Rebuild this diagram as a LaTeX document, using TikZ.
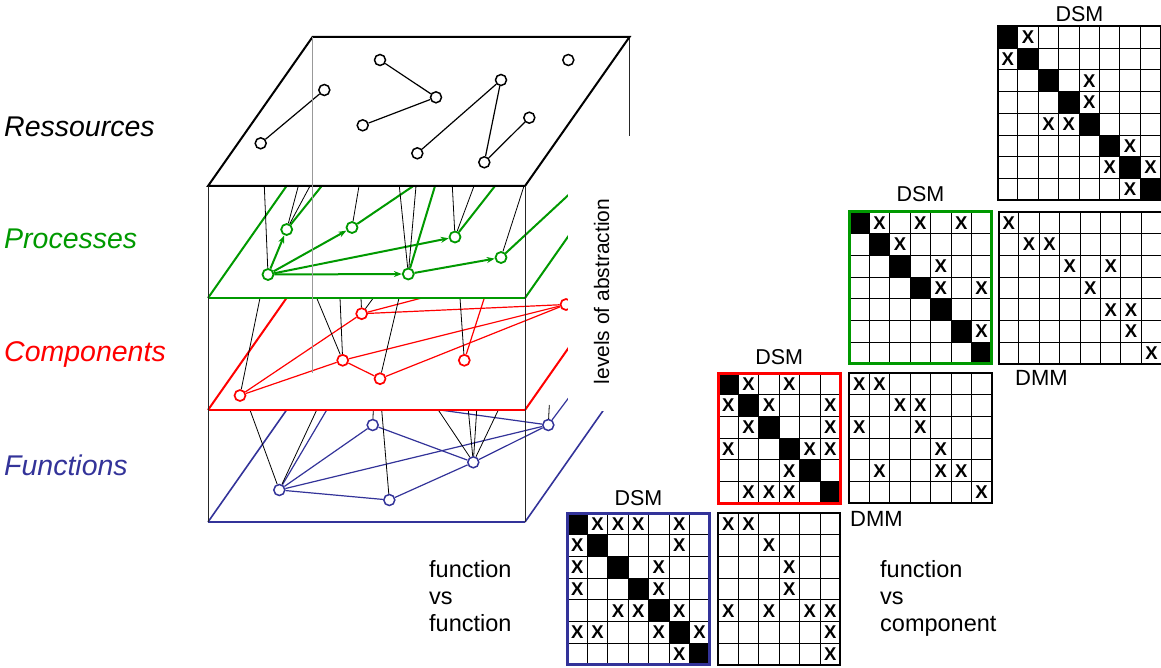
\documentclass[tikz,border=0pt]{standalone}
\usepackage{fontspec}
\setmainfont{Liberation Sans}
\usetikzlibrary{arrows.meta,calc}
\definecolor{pgreen}{RGB}{0,153,0}
\definecolor{fblue}{RGB}{51,51,153}
\def\cw{20.4}
\def\ch{21.7}
\newcommand{\drawmatrix}[6]{%
  \pgfmathtruncatemacro\mxcols{#3-1}%
  \pgfmathtruncatemacro\mxrows{#4-1}%
  \foreach \k in {1,...,\mxcols} \draw[gridline] ({#1+\k*\cw},#2) -- ++(0,{#4*\ch});
  \foreach \k in {1,...,\mxrows} \draw[gridline] (#1,{#2+\k*\ch}) -- ++({#3*\cw},0);
  \foreach \xr/\xc in {#6} \node[xmark] at ({#1+(\xc-0.5)*\cw},{#2+(\xr-0.5)*\ch}) {X};
  \draw[#5] (#1,#2) rectangle ++({#3*\cw},{#4*\ch});
}
\newcommand{\drawdiag}[3]{%
  \foreach \k in {1,...,#3} \fill[black] ({#1+(\k-1)*\cw},{#2+(\k-1)*\ch}) rectangle ++(\cw,\ch);
}
\begin{document}
\begin{tikzpicture}[x=1pt,y=-1pt,
 gridline/.style={black,line width=0.9pt},
 xmark/.style={font=\fontsize{18.5}{18.5}\selectfont\bfseries,inner sep=0pt},
 mborder/.style={black,line width=2pt},
 gborder/.style={pgreen,line width=3pt},
 rborder/.style={red,line width=3pt},
 bborder/.style={fblue,line width=3pt},
 lbl/.style={anchor=base west,inner sep=0pt,font=\fontsize{28.5}{30}\selectfont\itshape},
 mlabel/.style={anchor=base,inner sep=0pt,font=\fontsize{21.5}{24}\selectfont},
 mlabelw/.style={anchor=base west,inner sep=0pt,font=\fontsize{22}{24}\selectfont},
 txt/.style={anchor=base west,inner sep=0pt,font=\fontsize{23.5}{27}\selectfont},
 nbase/.style={circle,fill=white,minimum size=11pt,inner sep=0pt},
 rnode/.style={nbase,draw=black,line width=1.5pt},
 pnode/.style={nbase,draw=pgreen,line width=1.8pt},
 cnode/.style={nbase,draw=red,line width=1.7pt},
 fnode/.style={nbase,draw=fblue,line width=1.5pt},
 mlink/.style={black,line width=0.8pt},
 redge/.style={black,line width=1.2pt},
 pedge/.style={pgreen,line width=2pt},
 parrow/.style={pedge,-{Stealth[length=8pt,width=6pt]}},
 cedge/.style={red,line width=1.2pt},
 fedge/.style={fblue,line width=1.2pt},
 pfront/.style={line width=2.8pt},
 pside/.style={line width=2pt}]
\useasboundingbox (0,0) rectangle (1161,668);

% ================= functions layer
\draw[pside,fblue,line width=1.6pt] (208,522) -- (312.5,373);
\draw[pside,fblue,line width=1.6pt] (525,522) -- (629.5,373);
\draw[pfront,fblue] (208,522) -- (525,522);
\node[fnode] (B1) at (279.3,490) {};
\node[fnode] (B2) at (372.7,425) {};
\node[fnode] (B3) at (389.3,500) {};
\node[fnode] (B4) at (473.3,462.3) {};
\node[fnode] (B5) at (548.3,425) {};
\coordinate (fb1) at (326.7,410);
\coordinate (fb2) at (440,410);
\coordinate (fb3) at (582,380);
\draw[fedge] (B1) -- (B2);
\draw[fedge] (B1) -- (B3);
\draw[fedge] (B1) -- (B5);
\draw[fedge] (B2) -- (B4);
\draw[fedge] (B3) -- (B4);
\draw[fedge] (B4) -- (B5);
\draw[fedge] (B1) -- (fb1);
\draw[fedge] (B5) -- (fb2);
\draw[fedge] (B5) -- (fb3);
\coordinate (fk1) at (250,410);
\coordinate (fk2) at (316.7,410);
\coordinate (fk3) at (373.3,410);
\coordinate (fk4) at (381.7,410);
\coordinate (fk5) at (438.3,410);
\coordinate (fk6) at (468.3,410);
\coordinate (fk7) at (476.7,410);
\coordinate (fk8) at (498.3,410);
\coordinate (fk9) at (549.3,405);
\draw[mlink] (B1) -- (fk1);
\draw[mlink] (B1) -- (fk2);
\draw[mlink] (B2) -- (fk3);
\draw[mlink] (B3) -- (fk4);
\draw[mlink] (B4) -- (fk5);
\draw[mlink] (B4) -- (fk6);
\draw[mlink] (B4) -- (fk7);
\draw[mlink] (B4) -- (fk8);
\draw[mlink] (B5) -- (fk9);

% ================= components layer
\fill[white] (208,410) -- (525,410) -- (629.5,261) -- (312.5,261) -- cycle;
\draw[pside,red] (208,410) -- (312.5,261);
\draw[pside,red] (525,410) -- (629.5,261);
\draw[pfront,red] (208,410) -- (525,410);
\node[cnode] (C1) at (240,395.5) {};
\node[cnode] (C2) at (361.7,313.7) {};
\node[cnode] (C3) at (342.7,360.3) {};
\node[cnode] (C4) at (380,378.7) {};
\node[cnode] (C5) at (464.3,360.3) {};
\node[cnode] (C6) at (566,304.5) {};
\coordinate (cb1) at (421.7,298);
\coordinate (cb2) at (484.3,298);
\draw[cedge] (C1) -- (C2);
\draw[cedge] (C1) -- (C3);
\draw[cedge] (C3) -- (C4);
\draw[cedge] (C2) -- (C6);
\draw[cedge] (C3) -- (C6);
\draw[cedge] (C4) -- (C6);
\draw[cedge] (C2) -- (cb1);
\draw[cedge] (C5) -- (cb2);
\coordinate (ck1) at (260,298);
\coordinate (ck2) at (316.7,298);
\coordinate (ck3) at (340,298);
\coordinate (ck4) at (361,298);
\coordinate (ck5) at (373.3,298);
\coordinate (ck6) at (399,298);
\coordinate (ck7) at (460,298);
\draw[mlink] (C1) -- (ck1);
\draw[mlink] (C3) -- (ck2);
\draw[mlink] (C3) -- (ck3);
\draw[mlink] (C2) -- (ck4);
\draw[mlink] (C2) -- (ck5);
\draw[mlink] (C4) -- (ck6);
\draw[mlink] (C5) -- (ck7);

% ================= processes layer
\fill[white] (208,298) -- (525,298) -- (629.5,149) -- (312.5,149) -- cycle;
\draw[pside,pgreen] (208,298) -- (312.5,149);
\draw[pside,pgreen] (525,298) -- (629.5,149);
\draw[pfront,pgreen] (208,298) -- (525,298);
\node[pnode] (P1) at (268,274.5) {};
\node[pnode] (P2) at (286.7,229.5) {};
\node[pnode] (P3) at (352,227.5) {};
\node[pnode] (P4) at (455,237) {};
\node[pnode] (P5) at (408.3,274) {};
\node[pnode] (P6) at (501,257.5) {};
\draw[parrow] (P1) -- (P2);
\draw[parrow] (P1) -- (P3);
\draw[parrow] (P1) -- (P4);
\draw[parrow] (P1) -- (P5);
\draw[parrow] (P5) -- (P6);
\coordinate (pb1) at (321.7,186);
\coordinate (pb2) at (413.3,186);
\coordinate (pb3) at (435,186);
\coordinate (pb4) at (495,186);
\coordinate (pb5) at (590,175);
\draw[pedge] (P2) -- (pb1);
\draw[pedge] (P3) -- (pb2);
\draw[pedge] (P5) -- (pb3);
\draw[pedge] (P4) -- (pb4);
\draw[pedge] (P6) -- (pb5);
\coordinate (pk1) at (264.3,186);
\coordinate (pk2) at (298.3,186);
\coordinate (pk3) at (310,186);
\coordinate (pk4) at (359,186);
\coordinate (pk5) at (399.3,186);
\coordinate (pk6) at (416,186);
\coordinate (pk7) at (452.3,186);
\coordinate (pk8) at (474,186);
\coordinate (pk9) at (524,186);
\draw[mlink] (P1) -- (pk1);
\draw[mlink] (P2) -- (pk2);
\draw[mlink] (P2) -- (pk3);
\draw[mlink] (P3) -- (pk4);
\draw[mlink] (P5) -- (pk5);
\draw[mlink] (P5) -- (pk6);
\draw[mlink] (P4) -- (pk7);
\draw[mlink] (P4) -- (pk8);
\draw[mlink] (P6) -- (pk9);

% ================= resources layer
\draw[black!85,line width=0.8pt] (629.5,37) -- (629.5,373);
\fill[white] (208,186) -- (525,186) -- (629.5,37) -- (312.5,37) -- cycle;
\draw[line width=2pt,line join=miter] (208,186) -- (525,186) -- (629.5,37) -- (312.5,37) -- cycle;
\node[rnode] (R1) at (260.7,143.3) {};
\node[rnode] (R2) at (324.3,90) {};
\node[rnode] (R3) at (380,60) {};
\node[rnode] (R4) at (436,97.3) {};
\node[rnode] (R5) at (362.7,125.3) {};
\node[rnode] (R6) at (501,80) {};
\node[rnode] (R7) at (529.3,117.7) {};
\node[rnode] (R8) at (417.3,153.3) {};
\node[rnode] (R9) at (484.3,162.3) {};
\node[rnode] (R10) at (568.3,60) {};
\draw[redge] (R1) -- (R2);
\draw[redge] (R3) -- (R4);
\draw[redge] (R5) -- (R4);
\draw[redge] (R8) -- (R6);
\draw[redge] (R6) -- (R9);
\draw[redge] (R9) -- (R7);

% ================= box edges and text area
\fill[white] (568,136) rectangle (650,411);
\draw[black!40,line width=0.8pt] (312.5,37) -- (312.5,373);
\draw[black!85,line width=0.9pt] (208,186) -- (208,522);
\draw[black!85,line width=0.9pt] (525,186) -- (525,522);
\node[rotate=90,anchor=base,inner sep=0pt,font=\fontsize{21}{24}\selectfont] (abs) at (609,291.5) {levels of abstraction};

% ================= layer labels
\node[lbl,black] (lR) at (4,137) {Ressources};
\node[lbl,pgreen] (lP) at (4,249) {Processes};
\node[lbl,red] (lC) at (4,361) {Components};
\node[lbl,fblue] (lF) at (4,475) {Functions};

% ================= matrices
\drawdiag{997.5}{26.5}{8}
\drawmatrix{997.5}{26.5}{8}{8}{mborder}{1/2,2/1,3/5,4/5,5/3,5/4,6/7,7/6,7/8,8/7}
\drawmatrix{998.5}{212}{8}{7}{mborder}{1/1,2/2,2/3,3/4,3/6,4/5,5/6,5/7,6/7,7/8}
\drawdiag{849}{212}{7}
\drawmatrix{849}{212}{7}{7}{gborder}{1/2,1/4,1/6,2/3,3/5,4/5,4/7,6/7}
\drawdiag{718}{373}{6}
\drawmatrix{718}{373}{6}{6}{rborder}{1/2,1/4,2/1,2/3,2/6,3/2,3/6,4/1,4/5,4/6,5/4,6/2,6/3,6/4}
\drawmatrix{849}{373}{7}{6}{mborder}{1/1,1/2,2/3,2/4,3/1,3/4,4/5,5/2,5/5,5/6,6/7}
\drawdiag{567}{513}{7}
\drawmatrix{567}{513}{7}{7}{bborder}{1/2,1/3,1/4,1/6,2/1,2/6,3/1,3/5,4/1,4/5,5/3,5/4,5/6,6/1,6/2,6/5,6/7,7/6}
\drawmatrix{718}{513}{6}{7}{mborder}{1/1,1/2,2/3,3/4,4/4,5/1,5/3,5/5,5/6,6/6,7/6}

\node[mlabel] (d1) at (1079.5,22) {DSM};
\node[mlabel] (d2) at (920.4,201.5) {DSM};
\node[mlabel] (d3) at (779.2,364) {DSM};
\node[mlabel] (d4) at (638.4,505) {DSM};
\node[mlabelw] (m1) at (1015,385) {DMM};
\node[mlabelw] (m2) at (850,526.7) {DMM};

\node[txt] (t1) at (429,577.3) {function};
\node[txt] (t2) at (429,604.3) {vs};
\node[txt] (t3) at (429,631.5) {function};
\node[txt] (t4) at (880,577.3) {function};
\node[txt] (t5) at (880,604.3) {vs};
\node[txt] (t6) at (880,631.5) {component};
\end{tikzpicture}
\end{document}
